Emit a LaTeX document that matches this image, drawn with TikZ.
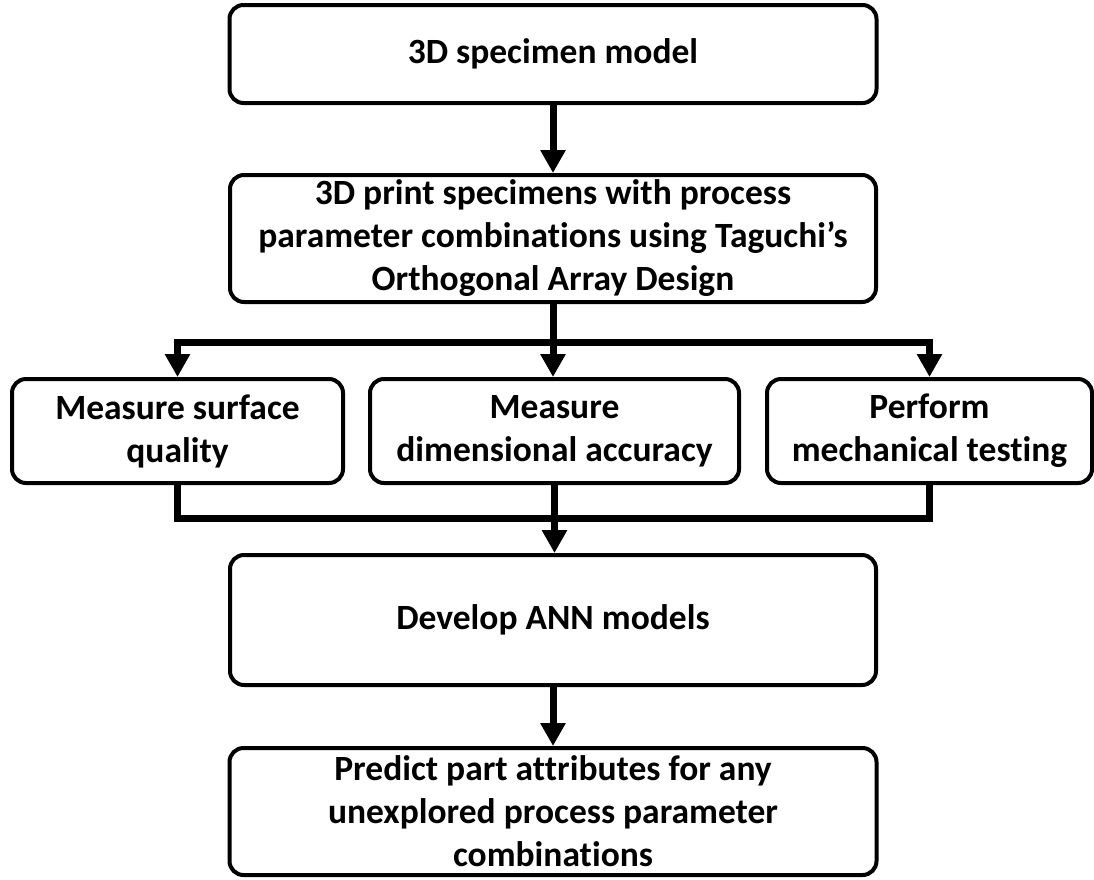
\documentclass[tikz,border=0pt]{standalone}
\usepackage{fontspec}
\setmainfont[Ligatures={TeX,NoCommon}]{Carlito}
\usetikzlibrary{arrows.meta}
\begin{document}
\begin{tikzpicture}[x=1pt,y=-1pt,
  box/.style={draw, line width=4pt, rounded corners=14pt, align=center,
    font=\bfseries\fontsize{35.5}{43}\selectfont, inner sep=0pt},
  conn/.style={line width=7pt},
  arr/.style={conn, -{Triangle[length=23pt,width=24pt]}}]
\useasboundingbox (0,0) rectangle (1094,879);

% process steps
\node[box, minimum width=647pt, minimum height=98pt] (model) at (553,54) {3D specimen model};
\node[box, minimum width=646pt, minimum height=127pt] (print) at (553,238.5)
  {3D print specimens with process\\parameter combinations using Taguchi’s\\Orthogonal Array Design};
\node[box, minimum width=331pt, minimum height=104pt] (surface) at (177.5,431) {Measure surface\\quality};
\node[box, minimum width=369pt, minimum height=104pt] (dim) at (554.5,431) {Measure\\dimensional accuracy};
\node[box, minimum width=325pt, minimum height=104pt] (mech) at (929.5,431) {Perform\\mechanical testing};
\node[box, minimum width=646pt, minimum height=130pt] (ann) at (553,620) {Develop ANN models};
\node[box, minimum width=647pt, minimum height=127pt] (predict) at (553,811.5)
  {Predict part attributes for any\\unexplored process parameter\\combinations};

% connectors
\coordinate (split) at (553,342);
\coordinate (join) at (553,518);
\draw[arr] (model.south) -- (print.north);
\draw[conn] (print.south) -- (split);
\draw[arr] (split) -| (surface.north);
\draw[arr] (split) -| (mech.north);
\draw[arr] (split) -- (split |- dim.north);
\draw[conn] (surface.south) |- (join) -| (mech.south);
\draw[arr] (dim.south) -- (dim.south |- ann.north);
\draw[arr] (ann.south) -- (predict.north);
\end{tikzpicture}
\end{document}
